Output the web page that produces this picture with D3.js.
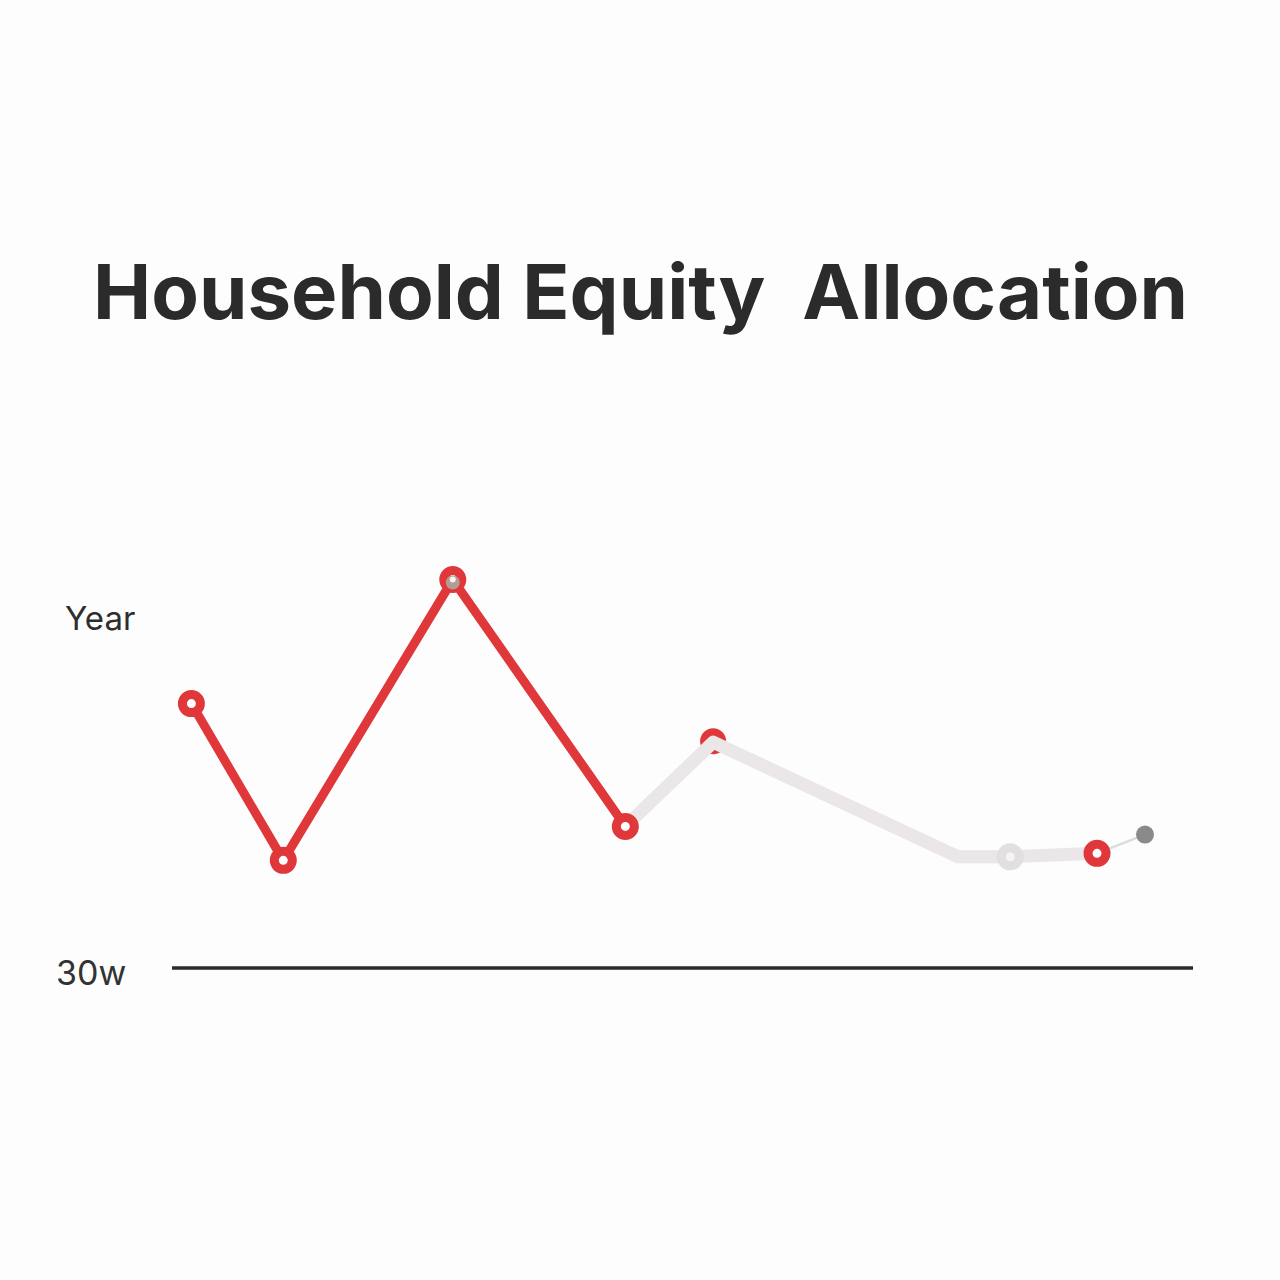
<!DOCTYPE html>
<html>
<head>
<meta charset="utf-8">
<script src="https://cdn.jsdelivr.net/npm/d3@7"></script>
<style>
  html, body { margin: 0; padding: 0; background: #fdfdfd; }
  svg { display: block; }
</style>
</head>
<body>
<svg id="chart" width="1280" height="1280"></svg>
<script>
// ---- data ----
const titleText = "Household Equity\u00a0\u00a0Allocation";
const yLabelTop = "Year";
const yLabelBottom = "30w";
// x positions (arbitrary time index) and values
const redX   = [1.9, 10.9, 27.5, 44.4];
const redY   = [52.6, 39.2, 63.2, 42.1];
const greyX  = [44.4, 53.0, 77.0, 82.1, 90.6];
const greyY  = [42.1, 49.3, 39.5, 39.5, 39.8];
const tailX  = [90.6, 95.3];
const tailY  = [39.8, 41.4];
const redRingX = [1.9, 10.9, 27.5, 44.4, 90.6];
const redRingY = [52.6, 39.2, 63.2, 42.1, 39.8];
const peakX = [53.0];
const peakY = [49.3];
const greyRingX = [82.1];
const greyRingY = [39.5];
const endDotX = [95.3];
const endDotY = [41.4];
const baseValue = 30;

const svg = d3.select("#chart");
const x = d3.scaleLinear().domain([0, 100]).range([172, 1193]);
const y = d3.scaleLinear().domain([30, 60]).range([968, 617]);

const RED = "#e0383a";
const LIGHT = "#ebe6e7";

// title
svg.append("text")
  .attr("x", 93).attr("y", 319)
  .attr("textLength", 1095).attr("lengthAdjust", "spacingAndGlyphs")
  .style("font-family", "Inter, 'Open Sans', sans-serif")
  .style("font-weight", 700)
  .style("font-size", "76px")
  .style("fill", "#2b2b2b")
  .text(titleText);

// axis labels
svg.append("text").attr("x", 65).attr("y", 630)
  .style("font-family", "Inter, sans-serif").style("font-size", "33px")
  .style("fill", "#2e2e2e").text(yLabelTop);
svg.append("text").attr("x", 56).attr("y", 985)
  .style("font-family", "Inter, sans-serif").style("font-size", "34px")
  .style("fill", "#333").text(yLabelBottom);

// baseline
svg.append("line")
  .attr("x1", x(0)).attr("x2", x(100))
  .attr("y1", y(baseValue)).attr("y2", y(baseValue))
  .attr("stroke", "#2b2b2b").attr("stroke-width", 3.5);

const line = d3.line().x(d => x(d[0])).y(d => y(d[1])).curve(d3.curveLinear);
const zip = (a, b) => a.map((v, i) => [v, b[i]]);

// tail thin line
svg.append("path").datum(zip(tailX, tailY)).attr("d", line)
  .attr("fill", "none").attr("stroke", "#dcdcdc").attr("stroke-width", 2.5);

// peak red marker (under grey line)
svg.selectAll(".peak").data(zip(peakX, peakY)).enter().append("circle")
  .attr("cx", d => x(d[0])).attr("cy", d => y(d[1]) - 1).attr("r", 13)
  .attr("fill", RED);

// grey line
svg.append("path").datum(zip(greyX, greyY)).attr("d", line)
  .attr("fill", "none").attr("stroke", LIGHT).attr("stroke-width", 13)
  .attr("stroke-linecap", "round").attr("stroke-linejoin", "round");

// red line
svg.append("path").datum(zip(redX, redY)).attr("d", line)
  .attr("fill", "none").attr("stroke", RED).attr("stroke-width", 9)
  .attr("stroke-linecap", "round").attr("stroke-linejoin", "round");

// grey ring
svg.selectAll(".gring").data(zip(greyRingX, greyRingY)).enter().append("circle")
  .attr("cx", d => x(d[0])).attr("cy", d => y(d[1])).attr("r", 9)
  .attr("fill", "#f6f5f5").attr("stroke", "#e3dfe0").attr("stroke-width", 9);

// red rings
const rings = svg.selectAll(".rring").data(zip(redRingX, redRingY)).enter().append("g")
  .attr("transform", d => `translate(${x(d[0])},${y(d[1])})`);
rings.append("circle").attr("r", 9)
  .attr("fill", "#ffffff").attr("stroke", RED).attr("stroke-width", 9);
// peak smudge on top ring
rings.filter((d, i) => i === 2).append("circle")
  .attr("cx", 0).attr("cy", 3).attr("r", 7).attr("fill", "#b49c93");
rings.filter((d, i) => i === 2).append("circle")
  .attr("cx", 0).attr("cy", 0).attr("r", 3).attr("fill", "#fbf3f0");

// end dot
svg.selectAll(".end").data(zip(endDotX, endDotY)).enter().append("circle")
  .attr("cx", d => x(d[0])).attr("cy", d => y(d[1])).attr("r", 9)
  .attr("fill", "#8a8a8a");
</script>
</body>
</html>
